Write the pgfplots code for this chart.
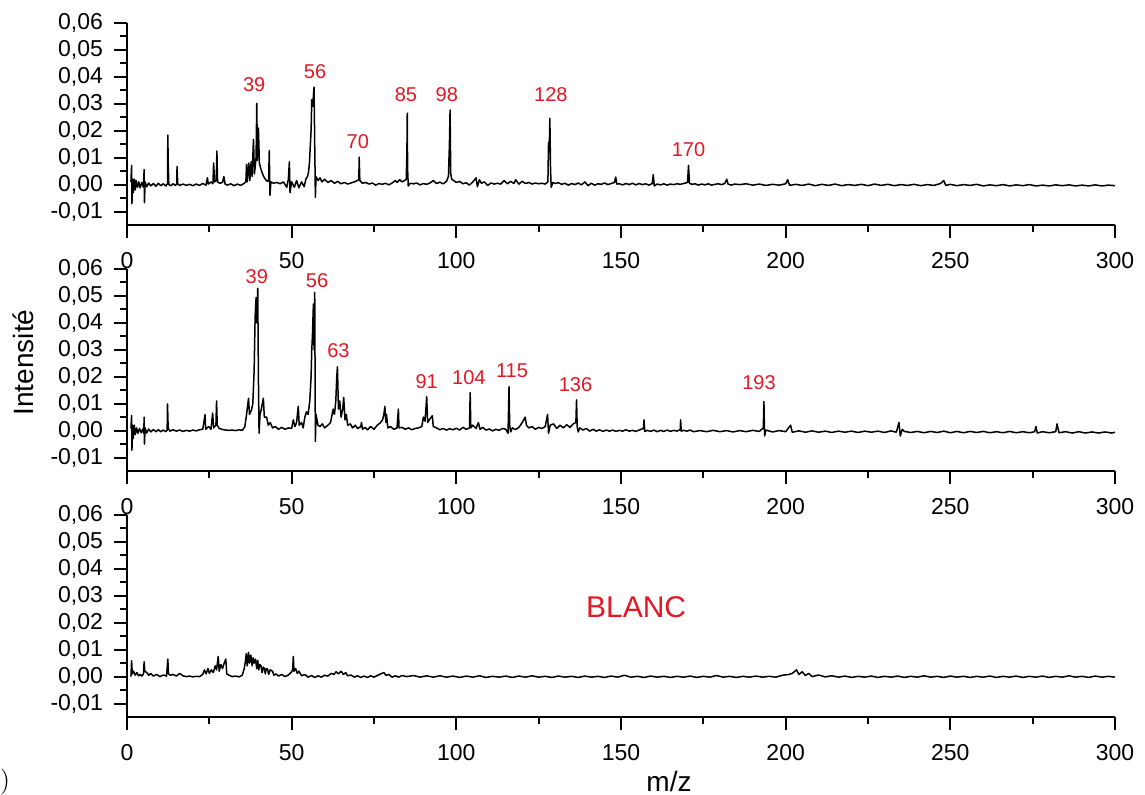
\documentclass[border=0pt]{standalone}
\usepackage{fontspec}
\setmainfont{Liberation Sans}
\usepackage{pgfplots}
\usepackage{pgfplotstable}
\pgfplotsset{compat=1.18}
\definecolor{labred}{RGB}{226,24,36}

\pgfplotstableread{
x y
1.2 0.001
1.4 0.0071
1.5 -0.0071
1.7 0.002
1.9 -0.003
2.2 0.002
2.5 -0.002
2.8 0.0015
3.2 -0.001
3.6 0.001
4.0 -0.0012
4.5 0.0008
5.0 -0.001
5.2 0.0056
5.3 -0.0067
5.5 0.001
6.0 -0.0008
6.6 0.0006
7.2 -0.0005
8.0 0.0004
8.8 -0.0006
9.5 0.0005
10.3 -0.0004
11.0 0.0003
11.8 -0.0005
12.3 0.0003
12.4 0.0184
12.5 0.0085
12.7 0.000
13.3 -0.0004
14.0 0.0003
14.7 -0.0003
15.1 0.0002
15.2 0.0067
15.4 0.0003
16.0 -0.0003
17.0 0.0002
18.0 -0.0003
19.0 0.0001
20.0 -0.0004
21.0 0.0002
22.0 -0.0003
23.0 0.0004
24.0 -0.0002
24.4 0.0025
24.7 0.0002
25.5 0.0010
26.1 0.0003
26.3 0.0080
26.6 0.0010
27.1 0.0015
27.3 0.0125
27.5 0.0010
28.2 0.0005
29.0 0.0008
29.4 0.0030
29.8 0.0002
30.5 -0.0002
31.5 0.0003
32.5 -0.0004
33.5 0.0002
34.5 -0.0003
35.5 0.0004
36.1 0.0010
36.3 0.0075
36.5 0.0010
37.0 0.0080
37.3 0.0015
37.7 0.0085
38.0 0.0030
38.4 0.0168
38.7 0.0040
39.2 0.0100
39.4 0.0302
39.6 0.0090
39.9 0.0210
40.2 0.0080
40.6 0.0060
41.0 0.0045
41.5 0.0030
42.0 0.0020
42.6 0.0012
43.0 0.0015
43.2 0.0126
43.4 -0.0040
43.7 0.0010
44.5 0.0005
45.5 0.0008
46.5 0.0003
47.5 0.0010
48.5 -0.0010
49.0 0.0020
49.3 0.0085
49.5 -0.0030
50.0 0.0010
50.8 -0.0010
51.5 0.0015
52.2 -0.0012
53.0 0.0010
53.8 -0.0008
54.3 0.0020
54.8 0.0030
55.1 0.0045
55.4 0.0080
55.6 0.0130
55.9 0.0200
56.1 0.0315
56.4 0.0290
56.6 0.0330
56.8 0.0362
57.0 0.0150
57.2 -0.0047
57.4 0.0030
58.0 0.0015
58.6 0.0025
59.2 0.0010
60.0 0.0020
61.0 0.0008
62.0 0.0015
63.0 0.0005
64.0 0.0012
65.0 0.0003
66.0 0.0008
67.0 0.0002
68.0 0.0006
69.0 0.0010
70.0 0.0015
70.4 0.0020
70.5 0.0102
70.7 0.0015
71.5 0.0005
72.5 0.0008
73.5 0.0002
74.5 0.0006
75.5 -0.0002
76.5 0.0004
77.5 0.0001
78.5 0.0005
79.5 -0.0001
80.5 0.0006
81.5 0.0015
82.0 0.0008
82.8 0.0018
83.5 0.0010
84.3 0.0015
84.8 0.0020
85.0 0.0130
85.1 0.0265
85.2 0.0060
85.4 -0.0005
86.0 0.0005
87.0 0.0003
88.0 0.0006
89.0 -0.0001
90.0 0.0004
91.0 0.0001
92.0 0.0006
93.0 0.0015
94.0 0.0004
95.0 0.0009
96.0 0.0003
97.0 0.0012
97.6 0.0030
97.9 0.0150
98.1 0.0277
98.3 0.0040
98.6 0.0020
99.2 0.0015
100.0 0.0008
101.0 0.0012
102.0 0.0003
103.0 0.0007
104.0 -0.0002
105.0 0.0010
106.0 0.0025
106.4 -0.0008
107.0 0.0018
107.6 0.0005
108.5 0.0010
109.5 -0.0003
110.5 0.0006
111.5 0.0002
112.5 0.0005
113.5 0.0002
114.5 0.0015
115.5 0.0003
116.5 0.0012
117.5 0.0004
118.0 0.0018
119.0 0.0002
120.0 0.0012
121.0 0.0004
122.0 0.0008
123.0 0.0002
124.0 0.0006
125.0 0.0003
126.0 0.0005
127.0 0.0002
127.8 0.0010
128.0 0.0158
128.2 0.0120
128.4 0.0246
128.6 0.0060
128.8 -0.0010
129.3 0.0008
130.0 0.0004
131.0 0.0007
132.0 0.0001
133.0 0.0005
134.0 -0.0002
135.0 0.0004
136.0 0.0000
137.0 0.0006
138.0 -0.0001
139.0 0.0010
140.0 -0.0004
141.0 0.0005
142.0 -0.0002
143.0 0.0003
144.0 0.0001
145.0 0.0006
146.0 0.0000
147.0 0.0004
148.0 0.0008
148.4 0.0028
148.7 0.0002
149.5 0.0003
150.5 -0.0001
151.5 0.0004
152.5 0.0000
153.5 0.0005
154.5 -0.0001
155.5 0.0004
156.5 0.0000
157.5 0.0003
158.5 -0.0002
159.5 0.0004
159.8 0.0037
160.1 -0.0005
161.0 0.0002
162.0 -0.0001
163.0 0.0003
164.0 -0.0002
165.0 0.0002
166.0 0.0000
167.0 0.0003
168.0 0.0001
169.0 0.0004
170.2 0.0008
170.5 0.0071
170.8 0.0005
171.5 0.0001
172.5 0.0003
173.5 -0.0002
174.5 0.0002
175.5 -0.0001
176.5 0.0003
177.5 -0.0002
178.5 0.0001
179.5 0.0003
180.5 0.0000
181.5 0.0004
182.1 0.0020
182.5 0.0002
183.5 -0.0002
184.5 0.0002
186 0.0000
188 0.0003
190 -0.0002
192 0.0002
194 -0.0003
196 0.0001
198 -0.0002
200 0.0003
200.6 0.0018
201.2 -0.0003
203 0.0001
205 -0.0003
207 0.0002
209 -0.0004
211 0.0001
213 -0.0003
215 0.0002
217 -0.0004
219 0.0000
221 -0.0003
223 0.0001
225 -0.0004
227 0.0002
229 -0.0003
231 0.0001
233 -0.0004
235 0.0000
237 -0.0003
239 0.0001
241 -0.0004
243 0.0000
245 -0.0003
247 0.0004
248 0.0015
248.6 -0.0003
250 0.0001
252 -0.0004
254 0.0000
256 -0.0003
258 0.0001
260 -0.0005
262 -0.0001
264 -0.0004
266 0.0000
268 -0.0005
270 -0.0001
272 -0.0004
274 0.0000
276 -0.0005
278 -0.0002
280 -0.0005
282 -0.0001
284 -0.0004
286 -0.0001
288 -0.0005
290 -0.0002
292 -0.0005
294 -0.0001
296 -0.0005
298 -0.0002
300 -0.0004
}\dataA

\pgfplotstableread{
x y
1.2 0.001
1.4 0.0056
1.5 -0.0073
1.7 0.002
1.9 -0.003
2.2 0.002
2.5 -0.0015
2.9 0.001
3.3 -0.001
3.8 0.0008
4.3 -0.0008
4.8 0.0006
5.1 -0.001
5.2 0.0050
5.3 -0.0050
5.5 0.001
6.0 -0.0009
6.6 0.0006
7.2 -0.0005
8.0 0.0004
8.8 -0.0004
9.5 0.0003
10.3 -0.0004
11.0 0.0002
11.8 -0.0004
12.2 0.0002
12.3 0.0099
12.5 0.0010
13.0 -0.0002
14.0 0.0003
15.0 -0.0002
16.0 0.0002
17.0 -0.0003
18.0 0.0001
19.0 -0.0002
20.0 0.0002
21.0 -0.0001
22.0 0.0003
23.0 0.0005
23.7 0.0059
23.9 0.0005
24.8 0.0015
25.5 0.0005
26.0 0.0065
26.3 0.0010
27.0 0.0020
27.2 0.0110
27.4 0.0020
28.0 0.0008
29.0 0.0004
30.0 0.0002
31.0 0.0001
32.0 0.0002
33.0 0.0000
34.0 0.0003
35.0 0.0001
35.8 0.0015
36.3 0.0060
36.9 0.0120
37.2 0.0060
37.8 0.0077
38.2 0.0100
38.6 0.0220
38.9 0.0420
39.2 0.0494
39.4 0.0400
39.7 0.0528
39.9 0.0200
40.1 -0.0010
40.4 0.0060
40.8 0.0080
41.4 0.0120
41.7 0.0050
42.4 0.0050
42.9 0.0020
43.5 0.0030
44.2 0.0010
45.0 0.0015
46.0 0.0005
47.0 0.0012
48.0 0.0005
49.0 0.0010
50.0 0.0008
50.5 0.0040
51.0 0.0015
51.5 0.0030
52.0 0.0090
52.3 0.0020
53.0 0.0030
53.5 0.0010
54.0 0.0050
54.5 0.0070
55.0 0.0060
55.5 0.0110
55.9 0.0200
56.1 0.0300
56.3 0.0350
56.6 0.0470
56.8 0.0300
57.0 0.0513
57.2 -0.0040
57.4 0.0060
58.0 0.0020
58.6 0.0015
59.3 0.0025
60.0 0.0010
61.0 0.0020
61.8 0.0030
62.6 0.0080
63.0 0.0060
63.4 0.0110
63.7 0.0200
63.9 0.0237
64.2 0.0080
64.6 0.0110
65.0 0.0050
65.5 0.0080
65.8 0.0123
66.2 0.0040
66.6 0.0060
67.0 0.0020
67.8 0.0025
68.5 0.0010
69.3 0.0020
70.0 0.0008
71.0 0.0015
71.2 0.0030
71.5 0.0005
72.3 0.0012
73.0 0.0003
74.0 0.0015
75.0 0.0005
76.0 0.0020
77.0 0.0030
77.6 0.0040
78.0 0.0060
78.3 0.0090
78.6 0.0030
78.8 0.0060
79.2 0.0010
80.0 0.0015
81.0 0.0005
82.0 0.0010
82.4 0.0080
82.6 0.0010
83.5 0.0012
84.5 0.0005
85.5 0.0010
86.5 0.0003
87.5 0.0008
88.5 0.0010
89.5 0.0015
90.0 0.0050
90.5 0.0035
91.0 0.0126
91.3 0.0030
91.8 0.0040
92.7 0.0055
93.0 0.0015
94.0 0.0010
95.0 0.0003
96.0 0.0008
97.0 0.0002
98.0 0.0007
99.0 0.0003
100.0 0.0009
101.0 0.0002
102.0 0.0012
103.0 0.0005
104.0 0.0010
104.2 0.0141
104.4 0.0010
105.0 0.0020
106.0 0.0008
106.7 0.0030
107.2 0.0005
108.0 0.0012
109.0 0.0002
110.0 0.0006
111.0 -0.0001
112.0 0.0005
113.0 0.0001
114.0 0.0008
115.0 0.0005
115.7 -0.0010
116.0 0.0163
116.2 0.0020
116.5 -0.0005
117.0 0.0010
118.0 0.0004
119.0 0.0012
120.0 0.0030
120.9 0.0050
121.3 0.0020
122.0 0.0010
123.0 0.0015
124.0 0.0005
125.0 0.0012
126.0 0.0008
127.0 0.0015
127.7 0.0060
128.0 -0.0010
128.5 0.0020
129.5 0.0025
130.5 0.0008
131.5 0.0020
132.5 0.0010
133.5 0.0022
134.5 0.0012
135.5 0.0025
136.3 0.0030
136.5 0.0114
136.7 0.0015
137.0 -0.0005
137.5 0.0010
138.5 0.0002
139.5 0.0008
140.5 -0.0002
141.5 0.0005
142.5 -0.0002
143.5 0.0003
144.5 -0.0003
145.5 0.0002
146.5 -0.0002
147.5 0.0002
148.5 -0.0003
149.5 0.0001
150.5 -0.0002
151.5 0.0003
152.5 -0.0002
153.5 0.0001
154.5 -0.0003
155.5 0.0002
156.8 0.0008
157.0 0.0040
157.2 -0.0003
158.0 0.0001
159.0 -0.0003
160.0 0.0002
161.0 -0.0004
162.0 0.0001
163.0 -0.0003
164.0 0.0002
165.0 -0.0003
166.0 0.0001
167.0 -0.0002
168.0 0.0004
168.1 0.0040
168.3 -0.0002
169.0 0.0001
170 -0.0002
171 0.0002
172 -0.0004
174 0.0000
176 -0.0004
178 0.0001
180 -0.0004
182 0.0000
184 -0.0005
186 0.0000
188 -0.0004
190 0.0001
192 -0.0003
193.2 0.0010
193.4 0.0108
193.6 -0.0020
194 0.0002
196 -0.0005
198 0.0000
200 -0.0004
201.5 0.0020
202 -0.0006
204 -0.0001
206 -0.0006
208 -0.0001
210 -0.0006
212 -0.0002
214 -0.0007
216 -0.0002
218 -0.0006
220 -0.0002
222 -0.0007
224 -0.0002
226 -0.0006
228 -0.0002
230 -0.0007
232 -0.0001
233.6 -0.0006
234.4 0.0030
234.8 -0.0020
235.4 0.0005
236 -0.0003
238 -0.0007
240 -0.0003
242 -0.0008
244 -0.0003
246 -0.0007
248 -0.0002
250 -0.0008
252 -0.0003
254 -0.0008
256 -0.0003
258 -0.0007
260 -0.0003
262 -0.0008
264 -0.0004
266 -0.0008
268 -0.0003
270 -0.0008
272 -0.0004
274 -0.0008
275.6 -0.0004
276 0.0015
276.4 -0.0009
278 -0.0004
280 -0.0008
282 -0.0004
282.4 0.0025
283 -0.0008
285 -0.0004
287 -0.0009
289 -0.0004
291 -0.0009
293 -0.0005
295 -0.0009
297 -0.0005
299 -0.0009
300 -0.0006
}\dataB

\pgfplotstableread{
x y
1.2 0.000
1.4 0.0059
1.6 0.0010
2.0 0.0020
2.5 0.0005
3.0 0.0015
3.5 0.0003
4.0 0.0008
4.5 0.0002
5.0 0.0010
5.2 0.0055
5.4 0.0020
6.0 0.0015
6.6 0.0005
7.2 0.0012
8.0 0.0002
9.0 0.0008
10.0 0.0000
11.0 0.0006
12.0 0.0002
12.4 0.0065
12.6 0.0010
13.2 0.0005
14.0 0.0008
15.0 0.0002
16.0 0.0012
17.0 0.0003
18.0 0.0000
19.0 0.0002
20.0 -0.0001
21.0 0.0001
22.0 0.0000
23.0 0.0008
23.5 0.0025
24.0 0.0010
24.6 0.0030
25.0 0.0012
25.6 0.0025
26.2 0.0015
26.8 0.0040
27.2 0.0025
27.7 0.0075
28.0 0.0020
28.5 0.0045
29.0 0.0030
29.5 0.0050
30.0 0.0065
30.3 0.0010
31.0 0.0005
32.0 0.0000
33.0 0.0002
34.0 -0.0001
35.0 0.0005
35.6 0.0030
36.0 0.0060
36.2 0.0085
36.5 0.0040
36.9 0.0090
37.2 0.0050
37.6 0.0080
38.0 0.0040
38.3 0.0070
38.6 0.0050
39.0 0.0065
39.4 0.0030
39.7 0.0060
40.0 0.0025
40.3 0.0045
40.7 0.0040
41.0 0.0015
41.4 0.0035
41.7 0.0030
42.0 0.0010
42.3 0.0030
42.7 0.0028
43.0 0.0008
43.5 0.0025
44.2 0.0020
44.6 0.0005
45.2 0.0010
46.0 0.0002
47.0 0.0008
48.0 0.0000
49.0 0.0006
49.8 0.0015
50.3 0.0025
50.5 0.0075
50.7 0.0020
51.2 0.0030
51.7 0.0012
52.2 0.0020
53.0 0.0003
54.0 0.0008
55.0 -0.0002
56.0 0.0004
57.0 -0.0003
58.0 0.0003
59.0 -0.0002
60.0 0.0005
61.0 0.0002
62.0 0.0012
62.8 0.0008
63.5 0.0018
64.2 0.0010
65.0 0.0020
65.7 0.0008
66.4 0.0015
67.0 0.0003
68.0 0.0006
69.0 -0.0002
70.0 0.0003
71.0 -0.0003
72.0 0.0002
73.0 -0.0003
74.0 0.0003
75.0 -0.0002
76.0 0.0004
77.0 0.0010
78.0 0.0015
78.6 0.0005
79.5 0.0008
80.5 -0.0002
81.5 0.0003
82.5 -0.0002
83.5 0.0004
85 0.0000
87 0.0004
89 -0.0002
91 0.0003
93 -0.0002
95 0.0003
97 -0.0002
99 0.0002
101 -0.0003
103 0.0002
105 -0.0002
107 0.0003
109 -0.0003
111 0.0001
113 -0.0002
115 0.0002
117 -0.0003
119 0.0002
121 -0.0002
123 0.0003
125 -0.0002
127 0.0001
129 -0.0003
131 0.0002
133 -0.0002
135 0.0001
137 -0.0003
139 0.0002
141 -0.0002
143 0.0001
145 -0.0003
147 0.0002
149 -0.0002
151 0.0005
153 -0.0002
155 0.0001
157 -0.0003
159 0.0002
161 -0.0002
163 0.0001
165 -0.0003
167 0.0001
169 -0.0002
171 0.0002
173 -0.0003
175 0.0001
177 -0.0002
179 0.0004
181 -0.0002
183 0.0001
185 -0.0003
187 0.0001
189 -0.0002
191 0.0002
193 -0.0002
195 0.0001
197 -0.0002
199 0.0005
201 0.0008
202 0.0012
203.3 0.0025
204 0.0008
205 0.0018
206 0.0004
207 0.0012
208 0.0000
210 0.0006
212 -0.0001
214 0.0003
216 -0.0002
218 0.0002
220 -0.0003
222 0.0001
224 -0.0002
226 0.0002
228 -0.0003
230 0.0001
232 -0.0002
234 0.0002
236 -0.0003
238 0.0001
240 -0.0002
242 0.0003
244 -0.0002
246 0.0001
248 -0.0003
250 0.0002
252 -0.0002
254 0.0001
256 -0.0003
258 0.0001
260 -0.0002
262 0.0002
264 -0.0003
266 0.0001
268 -0.0002
270 0.0002
272 -0.0003
274 0.0001
276 -0.0002
278 0.0002
280 -0.0003
282 0.0001
284 -0.0002
286 0.0003
288 -0.0002
290 0.0001
292 -0.0003
294 0.0002
296 -0.0002
298 0.0001
300 -0.0002
}\dataC

\pgfplotsset{
  spec/.style={
    scale only axis, width=494pt, height=101pt,
    xmin=0, xmax=300, ymin=-0.015, ymax=0.06,
    axis x line*=bottom, axis y line*=left,
    axis line style={line width=1pt, -},
    xtick={0,50,100,150,200,250,300}, minor x tick num=1,
    ytick={-0.01,0,0.01,0.02,0.03,0.04,0.05,0.06}, minor y tick num=1,
    tick align=outside, major tick length=6.5pt, minor tick length=3.5pt,
    tick style={line width=1pt, black},
    tick label style={font=\fontsize{11.5}{13}\selectfont},
    /pgf/number format/assume math mode=true,
    yticklabel style={/pgf/number format/.cd, fixed, fixed zerofill, precision=2, use comma},
    scaled y ticks=false,
    xticklabel shift=3.5pt, yticklabel shift=2pt,
    no markers,
  },
  sp/.style={black, line width=0.75pt, line join=round, mark=none},
}
\tikzset{lab/.style={text=labred, font=\fontsize{10}{12}\selectfont}}

\begin{document}
\begin{tikzpicture}
\path[use as bounding box] (0,0) rectangle (572.5pt,397pt);

\begin{axis}[spec, at={(63.5pt,284.5pt)}, anchor=south west]
\addplot[sp] table[x=x,y=y] {\dataA};
\node[lab] at (axis cs:38.6,0.0371) {39};
\node[lab] at (axis cs:57.1,0.0419) {56};
\node[lab] at (axis cs:70.1,0.0161) {70};
\node[lab] at (axis cs:84.7,0.0333) {85};
\node[lab] at (axis cs:97.1,0.0333) {98};
\node[lab] at (axis cs:128.7,0.0333) {128};
\node[lab] at (axis cs:170.5,0.0131) {170};
\end{axis}

\begin{axis}[spec, at={(63.5pt,161.5pt)}, anchor=south west]
\addplot[sp] table[x=x,y=y] {\dataB};
\node[lab] at (axis cs:39.4,0.0570) {39};
\node[lab] at (axis cs:57.7,0.0558) {56};
\node[lab] at (axis cs:64.2,0.0296) {63};
\node[lab] at (axis cs:91.0,0.0182) {91};
\node[lab] at (axis cs:103.8,0.0195) {104};
\node[lab] at (axis cs:116.9,0.0221) {115};
\node[lab] at (axis cs:136.2,0.0169) {136};
\node[lab] at (axis cs:191.9,0.0178) {193};
\end{axis}

\begin{axis}[spec, at={(63.5pt,38.5pt)}, anchor=south west]
\addplot[sp] table[x=x,y=y] {\dataC};
\node[text=labred, font=\fontsize{15}{18}\selectfont] at (axis cs:154.6,0.0259) {BLANC};
\end{axis}

\node[rotate=90, font=\fontsize{14}{16}\selectfont] at (11.5pt,215.75pt) {Intensité};
\node[font=\fontsize{14}{16}\selectfont] at (334.5pt,6.5pt) {m/z};
\node[font=\fontfamily{lmr}\fontsize{13}{15}\selectfont, inner sep=0pt] at (2.5pt,6pt) {)};
\end{tikzpicture}
\end{document}
